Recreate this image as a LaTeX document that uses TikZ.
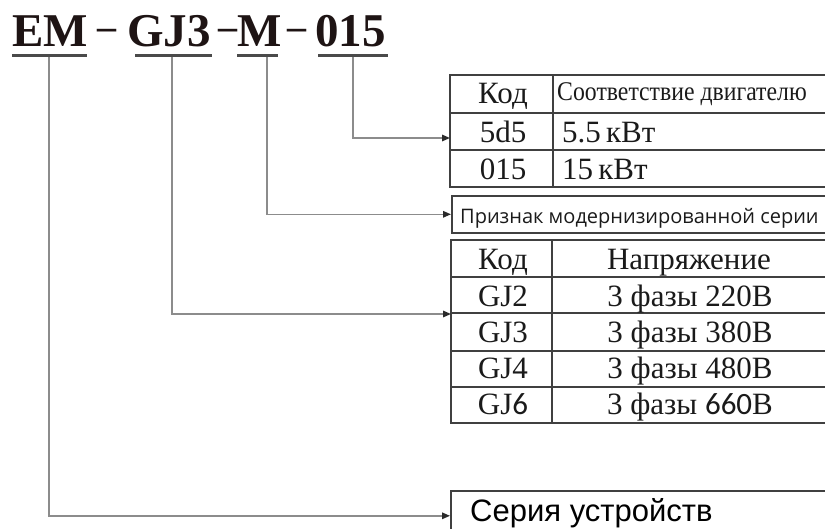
\documentclass[tikz,border=0pt]{standalone}
\usepackage{fontspec}
\setmainfont{Liberation Serif}
\newfontfamily\sansA{Liberation Sans}
\newfontfamily\sansO{Open Sans}
\newfontfamily\sansC{Carlito}
\usetikzlibrary{arrows.meta}
\definecolor{titlecol}{HTML}{1E1414}
\definecolor{ulcol}{HTML}{4A4A4A}
\definecolor{conncol}{HTML}{8C8C8C}
\definecolor{tipcol}{HTML}{2A2A2A}
\definecolor{tabcol}{HTML}{404040}
\definecolor{txtcol}{HTML}{1A1A1A}
\tikzset{
  ttl/.style={font=\fontsize{47}{47}\selectfont\bfseries, text=titlecol, inner sep=0pt, anchor=base west},
  hyph/.style={font=\fontsize{38}{38}\selectfont\bfseries, text=titlecol, inner sep=0pt, anchor=base west},
  ul/.style={draw=ulcol, line width=3pt},
  conn/.style={draw=conncol, line width=1.5pt, -{Triangle[length=8pt,width=6.5pt,color=tipcol]}},
  tab/.style={draw=tabcol, line width=1.6pt},
  boxx/.style={draw=tabcol, line width=1.6pt, inner sep=0pt, anchor=north west},
  cell/.style={font=\fontsize{31}{31}\selectfont, text=txtcol, inner sep=0pt, anchor=base},
  cellL/.style={font=\fontsize{31}{31}\selectfont, text=txtcol, inner sep=0pt, anchor=base west},
}
\begin{document}
\begin{tikzpicture}[x=1pt,y=-1pt]
\useasboundingbox (0,0) rectangle (825,529);
\clip (0,0) rectangle (825,529);
% title
\node[ttl] (tEM) at (12,47) {EM};
\node[hyph] (h1) at (97,40) {–};
\node[ttl] (tGJ) at (127,47) {GJ3};
\node[hyph] (h2) at (218,40) {–};
\node[ttl] (tM) at (237,47) {M};
\node[hyph] (h3) at (287,40) {–};
\node[ttl] (t015) at (315,47) {015};
% underlines
\draw[ul] (12,56) -- (87,56);
\draw[ul] (135,56) -- (212,56);
\draw[ul] (237,56) -- (278,56);
\draw[ul] (318,56) -- (388,56);
\coordinate (u1) at (49,57.5);
\coordinate (u2) at (172,57.5);
\coordinate (u3) at (267,57.5);
\coordinate (u4) at (353,57.5);
% table 1
\draw[tab] (830,75) -- (450,75) -- (450,187) -- (830,187);
\draw[tab] (450,113) -- (830,113);
\draw[tab] (450,150) -- (830,150);
\draw[tab] (553,75) -- (553,187);
\node[cell] (k1) at (503,104) {Код};
\node[font=\fontsize{27}{27}\selectfont\addfontfeature{FakeStretch=0.88}, text=txtcol, inner sep=0pt, anchor=base west] (m1) at (557,101) {Соответствие двигателю};
\node[cell] (c1) at (503,143) {5d5};
\node[cellL] (v1) at (562,143) {5.5\,кВт};
\node[cell] (c2) at (503,180) {015};
\node[cellL] (v2) at (562,180) {15\,кВт};
\coordinate (p1) at (450,138);
% box 2
\node[boxx, minimum width=380pt, minimum height=37pt] (b2) at (451,195) {};
\node[font=\sansO\fontsize{20}{20}\selectfont, text=txtcol, inner sep=0pt, anchor=base west] (b2t) at (460,224) {Признак модернизированной серии};
% table 2
\draw[tab] (830,240) -- (451,240) -- (451,423) -- (830,423);
\draw[tab] (451,277) -- (830,277);
\draw[tab] (451,313) -- (830,313);
\draw[tab] (451,351) -- (830,351);
\draw[tab] (451,387) -- (830,387);
\draw[tab] (552,240) -- (552,423);
\node[cell] (k2) at (503,270) {Код};
\node[cell] (n2) at (689,270) {Напряжение};
\node[cell] (g2) at (503,307) {GJ2};
\node[cell] (g3) at (503,343) {GJ3};
\node[cell] (g4) at (503,378) {GJ4};
\node[cell] (g6) at (503,414) {GJ{\sansC 6}};
\node[cell] (f2) at (690,307) {3 фазы 220В};
\node[cell] (f3) at (690,343) {3 фазы 380В};
\node[cell] (f4) at (690,378) {3 фазы 480В};
\node[cell] (f6) at (690,414) {3 фазы {\sansC 660}В};
\coordinate (p3) at (451,314);
% box series
\node[boxx, minimum width=380pt, minimum height=50pt] (b4) at (450,490) {};
\node[font=\sansA\fontsize{31}{31}\selectfont, text=black, inner sep=0pt, anchor=base west] (b4t) at (470,521) {Серия устройств};
% connectors
\draw[conn] (u4) |- (p1);
\draw[conn] (u3) |- (b2.west);
\draw[conn] (u2) |- (p3);
\draw[conn] (u1) |- (b4.west);
\end{tikzpicture}
\end{document}
